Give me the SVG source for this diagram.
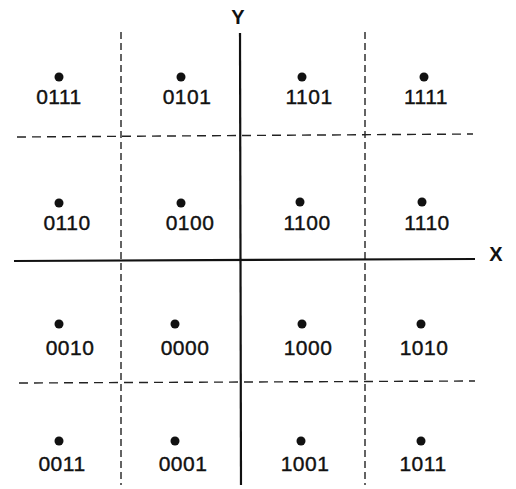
<svg xmlns="http://www.w3.org/2000/svg" width="516" height="489" viewBox="0 0 516 489">
<style>
.axis{stroke:#111;stroke-width:2.2;fill:none}
.dash{stroke:#222;stroke-width:1.4;stroke-dasharray:9 6;fill:none}
.vdash{stroke:#222;stroke-width:1.4;stroke-dasharray:7 4;fill:none}
.dot{fill:#111}
text{font-family:"Liberation Sans","DejaVu Sans",sans-serif;fill:#111}
.lbl{font-size:21px;text-anchor:middle;letter-spacing:0.5px;stroke:#111;stroke-width:0.4}
.ax{font-size:20px;font-weight:bold;text-anchor:middle}
</style>
<rect width="516" height="489" fill="#fff"/>
<g id="connectors">
<line class="vdash" x1="121" y1="32" x2="121" y2="485"/>
<line class="vdash" x1="365" y1="32" x2="365" y2="485"/>
<line class="dash" x1="17" y1="137" x2="473" y2="134"/>
<line class="dash" x1="19" y1="383" x2="475" y2="381"/>
<line class="axis" x1="14" y1="261" x2="475" y2="259"/>
<line class="axis" x1="240" y1="33" x2="241" y2="485"/>
</g>
<g id="axis-labels">
<text class="ax" x="238" y="24">Y</text>
<text class="ax" x="496" y="261">X</text>
</g>
<g id="n0111"><circle class="dot" cx="59" cy="77" r="4.5"/><text class="lbl" x="59" y="104">0111</text></g>
<g id="n0101"><circle class="dot" cx="181" cy="77" r="4.5"/><text class="lbl" x="187" y="104">0101</text></g>
<g id="n1101"><circle class="dot" cx="302" cy="77" r="4.5"/><text class="lbl" x="309" y="104">1101</text></g>
<g id="n1111"><circle class="dot" cx="424" cy="77" r="4.5"/><text class="lbl" x="426" y="104">1111</text></g>
<g id="n0110"><circle class="dot" cx="59" cy="203" r="4.5"/><text class="lbl" x="67" y="230">0110</text></g>
<g id="n0100"><circle class="dot" cx="181" cy="203" r="4.5"/><text class="lbl" x="190" y="230">0100</text></g>
<g id="n1100"><circle class="dot" cx="300" cy="202" r="4.5"/><text class="lbl" x="307" y="230">1100</text></g>
<g id="n1110"><circle class="dot" cx="422" cy="202" r="4.5"/><text class="lbl" x="427" y="230">1110</text></g>
<g id="n0010"><circle class="dot" cx="59" cy="324" r="4.5"/><text class="lbl" x="70" y="355">0010</text></g>
<g id="n0000"><circle class="dot" cx="175" cy="324" r="4.5"/><text class="lbl" x="185" y="355">0000</text></g>
<g id="n1000"><circle class="dot" cx="302" cy="324" r="4.5"/><text class="lbl" x="308" y="355">1000</text></g>
<g id="n1010"><circle class="dot" cx="421" cy="324" r="4.5"/><text class="lbl" x="424" y="355">1010</text></g>
<g id="n0011"><circle class="dot" cx="59" cy="441" r="4.5"/><text class="lbl" x="62" y="471">0011</text></g>
<g id="n0001"><circle class="dot" cx="175" cy="441" r="4.5"/><text class="lbl" x="183" y="471">0001</text></g>
<g id="n1001"><circle class="dot" cx="301" cy="441" r="4.5"/><text class="lbl" x="305" y="471">1001</text></g>
<g id="n1011"><circle class="dot" cx="421" cy="441" r="4.5"/><text class="lbl" x="423" y="471">1011</text></g>
</svg>
